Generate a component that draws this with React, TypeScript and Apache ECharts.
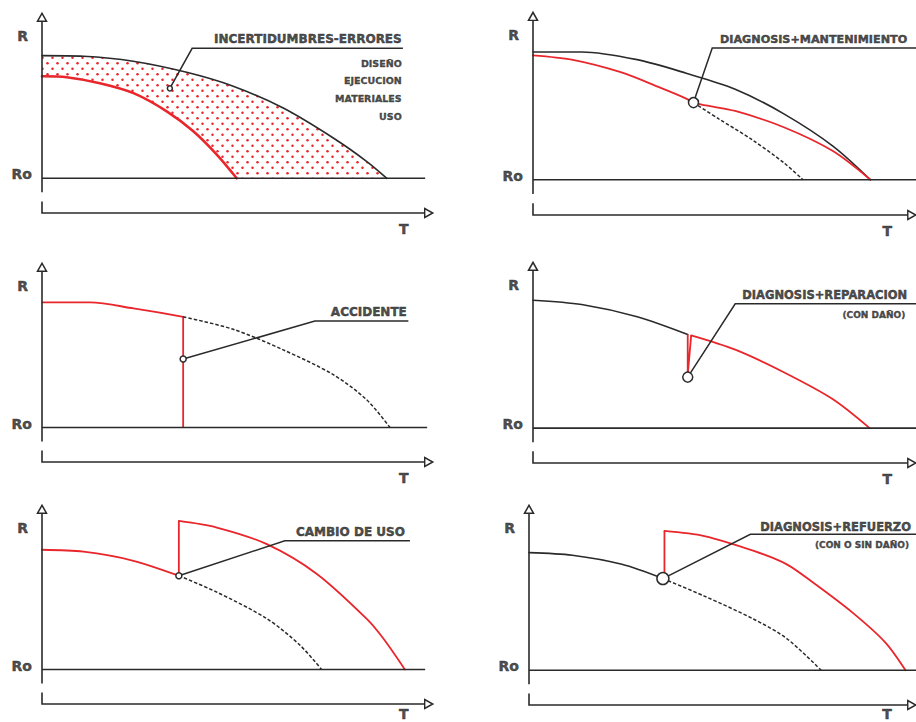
import React, { useEffect, useRef } from 'react';
import * as echarts from 'echarts';

// ---------- shared axis extents (T horizontal, R vertical, Ro = 0) ----------
const T_MIN = 0;
const T_MAX = 100;
const R_MIN = -21; // T axis level
const R_MAX = 100; // tip of the R arrow
const R_AXIS_BOTTOM = -8.5;
const R_AXIS_TOP = 95;
const R_ARROW = 97.4;
const T_TICK_TOP = -14;
const T_AXIS_END = 97.9;
const T_ARROW = 98.9;
const R_LABEL_AT = 86;
const RO_LABEL_AT = 2.4;
const T_LABEL_AT = 92.5;

// ---------- Panel 1: INCERTIDUMBRES-ERRORES ----------
const P1_UPPER_T = [0, 10.6, 23.3, 37.0, 48.9, 61.7, 74.5, 83.0, 88.2];
const P1_UPPER_R = [74.2, 73.8, 70.8, 64.1, 55.7, 42.5, 24.4, 10.3, 0];
const P1_LOWER_T = [0, 6.3, 14.8, 23.4, 31.9, 38.7, 44.7, 49.8];
const P1_LOWER_R = [61.7, 61.1, 57.5, 51.5, 40.5, 28.4, 14.3, 0];
const P1_LEADER_T = [32.7, 38.4, 92.3];
const P1_LEADER_R = [54.4, 78.6, 78.6];
const P1_TITLE = 'INCERTIDUMBRES-ERRORES';
const P1_ITEMS = ['DISEÑO', 'EJECUCION', 'MATERIALES', 'USO'];

// ---------- Panel 2: DIAGNOSIS+MANTENIMIENTO ----------
const P2_BASE_T = [0, 12.7, 27.2, 40.0, 52.8, 65.5, 78.3, 88.1];
const P2_BASE_R = [76.2, 76.2, 71.6, 63.5, 54.0, 39.3, 20.1, 0];
const P2_RED_A_T = [0, 10.1, 22.9, 33.2, 40.0, 41.9];
const P2_RED_A_R = [74.2, 71.6, 64.1, 54.9, 48.4, 46.0];
const P2_RED_B_T = [41.9, 45.1, 52.8, 65.5, 78.3, 88.1];
const P2_RED_B_R = [46.0, 44.3, 41.0, 31.3, 17.1, 0];
const P2_DASH_T = [41.9, 48.5, 57.0, 65.5, 70.5];
const P2_DASH_R = [46.0, 36.3, 24.2, 10.1, 0];
const P2_LEADER_T = [41.9, 46.8, 100];
const P2_LEADER_R = [46.0, 78.6, 78.6];
const P2_TITLE = 'DIAGNOSIS+MANTENIMIENTO';

// ---------- Panel 3: ACCIDENTE ----------
const P3_RED_T = [0, 12.3, 23.4, 36.1];
const P3_RED_R = [76.0, 76.0, 72.4, 67.3];
const P3_DROP_T = [36.1, 36.1];
const P3_DROP_R = [67.3, 0];
const P3_DASH_T = [36.1, 48.9, 61.7, 74.5, 83.0, 89.0];
const P3_DASH_R = [67.3, 59.7, 47.2, 32.1, 16.9, 0];
const P3_LEADER_T = [36.1, 69.8, 93.7];
const P3_LEADER_R = [41.6, 64.7, 64.7];
const P3_TITLE = 'ACCIDENTE';

// ---------- Panel 4: DIAGNOSIS+REPARACION ----------
const P4_BASE_T = [0, 12.7, 27.2, 40.4];
const P4_BASE_R = [77.0, 74.4, 67.0, 56.3];
const P4_DROP_T = [40.4, 40.4, 41.3];
const P4_DROP_R = [56.3, 32.1, 55.8];
const P4_RED_T = [41.3, 52.8, 65.6, 78.3, 87.9];
const P4_RED_R = [55.8, 47.2, 33.5, 17.4, 0];
const P4_LEADER_T = [40.4, 52.8, 100];
const P4_LEADER_R = [30.7, 74.8, 74.8];
const P4_TITLE = 'DIAGNOSIS+REPARACION';
const P4_NOTE = '(CON DAÑO)';

// ---------- Panel 5: CAMBIO DE USO ----------
const P5_RED_A_T = [0, 10.6, 23.4, 35.0];
const P5_RED_A_R = [72.8, 71.6, 66.1, 57.0];
const P5_JUMP_T = [35.0, 35.0];
const P5_JUMP_R = [57.0, 90.3];
const P5_RED_B_T = [35.0, 44.7, 57.5, 70.3, 83.0, 87.3, 92.8];
const P5_RED_B_R = [90.3, 86.3, 76.2, 58.1, 30.9, 18.8, 0];
const P5_DASH_T = [35.0, 44.7, 57.5, 66.0, 71.5];
const P5_DASH_R = [57.0, 47.0, 30.9, 14.7, 0];
const P5_LEADER_T = [35.0, 62.1, 94.1];
const P5_LEADER_R = [57.0, 78.2, 78.2];
const P5_TITLE = 'CAMBIO DE USO';

// ---------- Panel 6: DIAGNOSIS+REFUERZO ----------
const P6_BASE_T = [0, 11.2, 24.0, 34.6];
const P6_BASE_R = [71.2, 69.6, 64.1, 55.5];
const P6_JUMP_T = [35.0, 35.0];
const P6_JUMP_R = [55.5, 84.3];
const P6_RED_T = [35.0, 45.3, 58.1, 66.6, 73.4, 83.6, 92.1, 97.3];
const P6_RED_R = [84.3, 81.2, 72.2, 64.1, 53.1, 34.9, 16.8, 0];
const P6_DASH_T = [34.6, 45.3, 58.1, 66.6, 75.5];
const P6_DASH_R = [55.5, 44.9, 30.9, 19.2, 0];
const P6_LEADER_T = [34.6, 57.2, 100];
const P6_LEADER_R = [55.5, 82.3, 82.3];
const P6_TITLE = 'DIAGNOSIS+REFUERZO';
const P6_NOTE = '(CON O SIN DAÑO)';

// ---------- styling ----------
const BLACK = '#2a2a2a';
const RED = '#e8262b';
const TEXT = '#1e1e1e';
const FONT = '"DejaVu Sans", "Liberation Sans", Arial, sans-serif';

const GRIDS = [
  { left: 42, top: 13, width: 391, height: 200, roEnd: 98, tGap: 9 },
  { left: 533, top: 12, width: 391, height: 203, roEnd: 100, tGap: 9 },
  { left: 42, top: 263, width: 391, height: 199, roEnd: 98.5, tGap: 9 },
  { left: 533, top: 262, width: 391, height: 201, roEnd: 100, tGap: 9 },
  { left: 42, top: 505, width: 391, height: 199, roEnd: 98, tGap: 3 },
  { left: 529, top: 505, width: 391, height: 200, roEnd: 100, tGap: 2 },
];

type Pt = [number, number];
const zip = (t: number[], r: number[]): Pt[] => t.map((v, i) => [v, r[i]]);

function curve(g: number, t: number[], r: number[], color: string, width: number, extra: any = {}) {
  return {
    type: 'line', xAxisIndex: g, yAxisIndex: g, data: zip(t, r),
    symbol: 'none', showSymbol: false, smooth: 0.3,
    clip: false, silent: true, z: 3,
    lineStyle: { color, width, cap: 'round', join: 'round' },
    ...extra,
  };
}
function poly(g: number, t: number[], r: number[], color: string, width: number, z = 3, type: any = 'solid') {
  return {
    type: 'line', xAxisIndex: g, yAxisIndex: g, data: zip(t, r),
    symbol: 'none', showSymbol: false, smooth: false,
    clip: false, silent: true, z,
    lineStyle: { color, width, type, join: 'miter' },
  };
}
function dashed(g: number, t: number[], r: number[]) {
  return curve(g, t, r, BLACK, 1.5, { lineStyle: { color: BLACK, width: 1.5, type: [3.5, 2] } });
}
function marker(g: number, t: number, r: number, radius: number) {
  return {
    type: 'scatter', xAxisIndex: g, yAxisIndex: g, data: [[t, r]],
    symbol: 'circle', symbolSize: radius * 2, silent: true, z: 6, clip: false,
    itemStyle: { color: '#fff', borderColor: BLACK, borderWidth: 1.5, opacity: 1 },
  };
}
function arrow(g: number, t: number, r: number, rotate: number) {
  return {
    type: 'scatter', xAxisIndex: g, yAxisIndex: g, data: [[t, r]],
    symbol: 'triangle', symbolSize: [9, 8], symbolRotate: rotate, silent: true, z: 5, clip: false,
    itemStyle: { color: '#fff', borderColor: BLACK, borderWidth: 1.5, opacity: 1 },
  };
}
function text(g: number, t: number, r: number, content: string, label: any) {
  return {
    type: 'scatter', xAxisIndex: g, yAxisIndex: g, data: [[t, r]],
    symbolSize: 0, silent: true, z: 7, clip: false,
    itemStyle: { color: 'transparent' },
    label: {
      show: true, formatter: content, color: TEXT, fontFamily: FONT, fontWeight: 'bold',
      textBorderColor: TEXT, textBorderWidth: 0.5, ...label,
    },
  };
}

function axesFor(g: number) {
  const { roEnd, tGap } = GRIDS[g];
  return [
    poly(g, [0, 0], [R_AXIS_BOTTOM, R_AXIS_TOP], BLACK, 1.6, 4),
    poly(g, [0, 0, T_AXIS_END], [T_TICK_TOP, R_MIN, R_MIN], BLACK, 1.6, 4),
    poly(g, [0, roEnd], [0, 0], BLACK, 1.6, 4),
    arrow(g, 0, R_ARROW, 0),
    arrow(g, T_ARROW, R_MIN, -90),
    text(g, 0, R_LABEL_AT, 'R', { position: 'left', distance: 14, fontSize: 14 }),
    text(g, 0, RO_LABEL_AT, 'Ro', { position: 'left', distance: 10, fontSize: 14 }),
    text(g, T_LABEL_AT, R_MIN, 'T', { position: 'bottom', distance: tGap, fontSize: 14 }),
  ];
}

function titleAt(g: number, t: number, r: number, content: string, size: number, dy = -3) {
  return text(g, t, r, content, { position: [0, dy], align: 'right', verticalAlign: 'bottom', fontSize: size });
}
function noteAt(g: number, t: number, r: number, content: string, size: number, lineHeight: number, dy: number) {
  return text(g, t, r, content, {
    position: [0, dy], align: 'right', verticalAlign: 'top', fontSize: size, lineHeight, textBorderWidth: 0.4,
  });
}

function makeDots(): HTMLCanvasElement {
  const c = document.createElement('canvas');
  c.width = 10;
  c.height = 11;
  const ctx = c.getContext('2d')!;
  ctx.fillStyle = RED;
  for (const [x, y] of [[2.5, 2.75], [7.5, 8.25]]) {
    ctx.beginPath();
    ctx.arc(x, y, 1.25, 0, Math.PI * 2);
    ctx.fill();
  }
  return c;
}

export default function App() {
  const ref = useRef<HTMLDivElement>(null);
  useEffect(() => {
    if (!ref.current) return;
    const chart = echarts.init(ref.current, undefined, { renderer: 'svg' });
    const dots = makeDots();

    const series: any[] = [];
    // Panel 1
    series.push(curve(0, P1_UPPER_T, P1_UPPER_R, BLACK, 1.6, {
      z: 1, areaStyle: { color: { image: dots, repeat: 'repeat' }, opacity: 1 },
    }));
    series.push(curve(0, P1_LOWER_T, P1_LOWER_R, RED, 2.6, {
      z: 2, areaStyle: { color: '#ffffff', opacity: 1 },
    }));
    series.push(poly(0, P1_LEADER_T, P1_LEADER_R, BLACK, 1.5, 5));
    series.push(marker(0, P1_LEADER_T[0], P1_LEADER_R[0], 2.5));
    series.push(titleAt(0, 92.0, P1_LEADER_R[1], P1_TITLE, 12));
    series.push(noteAt(0, 92.0, P1_LEADER_R[1], P1_ITEMS.join('\n'), 9.5, 17.7, 6));

    // Panel 2
    series.push(curve(1, P2_BASE_T, P2_BASE_R, BLACK, 1.6));
    series.push(curve(1, P2_RED_A_T, P2_RED_A_R, RED, 1.8));
    series.push(curve(1, P2_RED_B_T, P2_RED_B_R, RED, 1.8));
    series.push(dashed(1, P2_DASH_T, P2_DASH_R));
    series.push(poly(1, P2_LEADER_T, P2_LEADER_R, BLACK, 1.5, 5));
    series.push(marker(1, P2_LEADER_T[0], P2_LEADER_R[0], 5));
    series.push(titleAt(1, 97.7, P2_LEADER_R[1], P2_TITLE, 11.2));

    // Panel 3
    series.push(curve(2, P3_RED_T, P3_RED_R, RED, 1.8));
    series.push(poly(2, P3_DROP_T, P3_DROP_R, RED, 1.8));
    series.push(dashed(2, P3_DASH_T, P3_DASH_R));
    series.push(poly(2, P3_LEADER_T, P3_LEADER_R, BLACK, 1.5, 5));
    series.push(marker(2, P3_LEADER_T[0], P3_LEADER_R[0], 3));
    series.push(titleAt(2, 93.3, P3_LEADER_R[1], P3_TITLE, 12));

    // Panel 4
    series.push(curve(3, P4_BASE_T, P4_BASE_R, BLACK, 1.6));
    series.push(poly(3, P4_DROP_T, P4_DROP_R, RED, 1.8));
    series.push(curve(3, P4_RED_T, P4_RED_R, RED, 1.8));
    series.push(poly(3, P4_LEADER_T, P4_LEADER_R, BLACK, 1.5, 5));
    series.push(marker(3, P4_LEADER_T[0], P4_LEADER_R[0], 5));
    series.push(titleAt(3, 97.7, P4_LEADER_R[1], P4_TITLE, 11.5));
    series.push(noteAt(3, 97.2, P4_LEADER_R[1], P4_NOTE, 9, 12, 5));

    // Panel 5
    series.push(curve(4, P5_RED_A_T, P5_RED_A_R, RED, 1.8));
    series.push(poly(4, P5_JUMP_T, P5_JUMP_R, RED, 1.8));
    series.push(curve(4, P5_RED_B_T, P5_RED_B_R, RED, 1.8));
    series.push(dashed(4, P5_DASH_T, P5_DASH_R));
    series.push(poly(4, P5_LEADER_T, P5_LEADER_R, BLACK, 1.5, 5));
    series.push(marker(4, P5_LEADER_T[0], P5_LEADER_R[0], 3));
    series.push(titleAt(4, 92.8, P5_LEADER_R[1], P5_TITLE, 12));

    // Panel 6
    series.push(curve(5, P6_BASE_T, P6_BASE_R, BLACK, 1.6));
    series.push(poly(5, P6_JUMP_T, P6_JUMP_R, RED, 1.8));
    series.push(curve(5, P6_RED_T, P6_RED_R, RED, 1.8));
    series.push(dashed(5, P6_DASH_T, P6_DASH_R));
    series.push(poly(5, P6_LEADER_T, P6_LEADER_R, BLACK, 1.5, 5));
    series.push(marker(5, P6_LEADER_T[0], P6_LEADER_R[0], 6));
    series.push(titleAt(5, 98.7, P6_LEADER_R[1], P6_TITLE, 11.5, -1));
    series.push(noteAt(5, 98.2, P6_LEADER_R[1], P6_NOTE, 9, 12, 5));

    for (let g = 0; g < GRIDS.length; g++) series.push(...axesFor(g));

    chart.setOption({
      animation: false,
      backgroundColor: '#ffffff',
      grid: GRIDS.map((g) => ({ left: g.left, top: g.top, width: g.width, height: g.height, containLabel: false })),
      xAxis: GRIDS.map((_, i) => ({ type: 'value', gridIndex: i, min: T_MIN, max: T_MAX, show: false })),
      yAxis: GRIDS.map((_, i) => ({ type: 'value', gridIndex: i, min: R_MIN, max: R_MAX, show: false })),
      series,
    });
    return () => chart.dispose();
  }, []);
  return <div ref={ref} style={{ position: 'fixed', left: 0, top: 0, width: 916, height: 722, background: '#fff' }} />;
}
